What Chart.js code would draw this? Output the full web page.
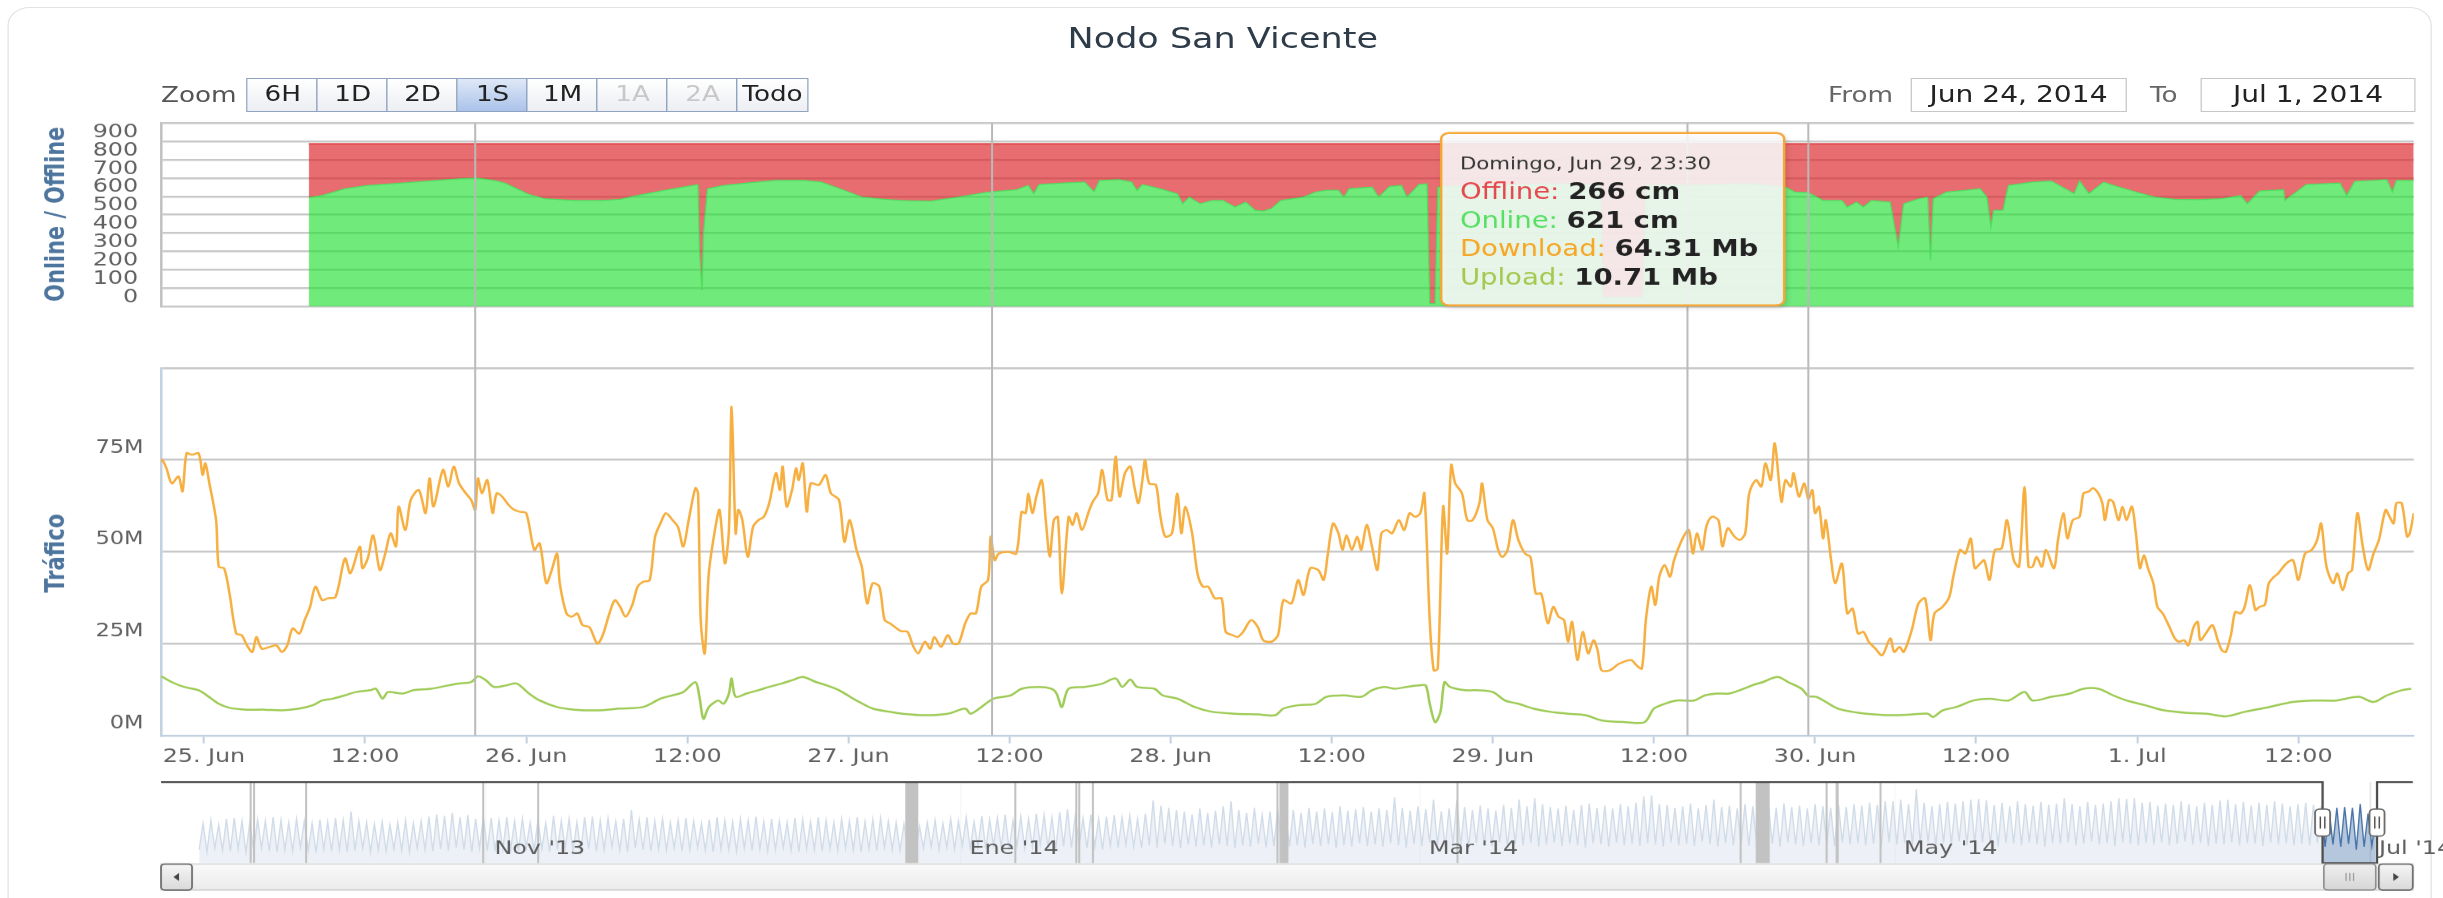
<!DOCTYPE html>
<html>
<head>
<meta charset="utf-8">
<script src="https://cdn.jsdelivr.net/npm/chart.js@4.4.1/dist/chart.umd.min.js"></script>
<style>
  html, body { margin: 0; padding: 0; background: #fff; overflow: hidden; }
  body { width: 2443px; height: 898px; position: relative; font-family: "DejaVu Sans", sans-serif; }
  /* the reference is a horizontally stretched screenshot, so the whole page is laid out narrow and stretched */
  #page { position: absolute; left: 0; top: 0; width: 1955px; height: 898px; transform: scaleX(1.24962); transform-origin: 0 0; }
  .frame { position: absolute; left: 5.6px; top: 7px; width: 1940.6px; height: 960px; box-sizing: border-box;
           border: 1.6px solid #e2e2e2; border-radius: 18px; }
  .title { position: absolute; left: 0; width: 1957px; top: 22px; line-height: 34px; text-align: center;
           font-size: 28px; color: #2e3b49; }
  .lbl { position: absolute; top: 78px; height: 34px; line-height: 34px; font-size: 21px; color: #666; }
  .btns { position: absolute; left: 199px; top: 78px; height: 34px; display: flex; }
  .btns span { box-sizing: border-box; width: 57.6px; height: 34px; border: 1.6px solid #8ea3c0; margin-left: -1.6px;
               background: linear-gradient(#ffffff, #eceef2); font-size: 21px; line-height: 31px; text-align: center; color: #222; }
  .btns span.sel { background: linear-gradient(#dfe8f7, #abc3ea); }
  .btns span.dis { color: #c8c8c8; }
  .box { position: absolute; top: 78px; height: 34px; box-sizing: border-box; border: 1.6px solid #c6c6c6;
         font-size: 22.5px; line-height: 31px; text-align: center; color: #222; }
  canvas { position: absolute; left: 0; }
</style>
</head>
<body>
<div id="page">
  <div class="frame"></div>
  <div class="title">Nodo San Vicente</div>
  <div class="lbl" style="left:128.8px;color:#555">Zoom</div>
  <div class="btns">
    <span>6H</span><span>1D</span><span>2D</span><span class="sel">1S</span><span>1M</span><span class="dis">1A</span><span class="dis">2A</span><span>Todo</span>
  </div>
  <div class="lbl" style="left:1462.9px">From</div>
  <div class="box" style="left:1528.5px;width:173.6px">Jun 24, 2014</div>
  <div class="lbl" style="left:1720.5px">To</div>
  <div class="box" style="left:1760.6px;width:172.8px">Jul 1, 2014</div>
  <canvas id="status" width="1955" height="230" style="top:110px"></canvas>
  <canvas id="traffic" width="1955" height="430" style="top:340px"></canvas>
  <canvas id="navigator" width="1955" height="128" style="top:770px"></canvas>
</div>
<script>
// main charts: x = hours since 25 Jun 2014 00:00
const mainMinHour = -3.2
const mainMaxHour = 164.6
const xTickHours = [0, 12, 24, 36, 48, 60, 72, 84, 96, 108, 120, 132, 144, 156]
const xTickLabels = ["25. Jun", "12:00", "26. Jun", "12:00", "27. Jun", "12:00", "28. Jun", "12:00",
                     "29. Jun", "12:00", "30. Jun", "12:00", "1. Jul", "12:00"]

const statusTicks = [0, 100, 200, 300, 400, 500, 600, 700, 800, 900, 1000]
const statusTickLabels = ["", "0", "100", "200", "300", "400", "500", "600", "700", "800", "900"]
const trafficTicks = [0, 25, 50, 75, 100]
const trafficTickLabels = ["0M", "25M", "50M", "75M", ""]

// online / offline cable modems
const statusHours = [7.8, 8.8, 10.5, 12.2, 14.7, 17.3, 19.0, 20.3, 21.6, 22.4, 23.3, 24.2, 25.4, 27.6, 29.7, 31.0,
  32.3, 34.0, 35.7, 36.8, 36.9, 37.1, 37.2, 37.5, 38.7, 40.4, 42.5, 44.7, 46.0, 47.7, 49.0, 50.7, 52.0, 54.1, 56.2,
  58.4, 60.5, 61.4, 61.8, 62.2, 64.0, 65.6, 66.3, 66.7, 68.2, 69.1, 69.5, 69.9, 71.2, 72.5, 72.9, 73.4, 74.2, 75.1,
  75.9, 76.8, 77.6, 78.3, 78.9, 79.5, 80.2, 81.9, 82.8, 83.6, 84.5, 84.9, 85.3, 87.0, 87.5, 88.3, 89.2, 89.6, 90.5,
  91.1, 91.3, 91.7, 91.9, 93.0, 95.0, 98.0, 100.0, 103.0, 104.0, 104.2, 107.2, 107.4, 110.0, 113.0, 115.0, 117.8,
  118.5, 119.5, 120.6, 122.0, 122.4, 123.1, 123.6, 124.2, 124.9, 125.6, 126.2, 126.6, 127.7, 128.4, 128.6, 128.8,
  129.8, 131.2, 132.3, 132.8, 133.1, 133.3, 134.0, 134.4, 136.2, 137.6, 139.3, 139.7, 140.4, 141.5, 142.5, 143.9,
  145.3, 146.8, 148.5, 150.3, 151.7, 152.2, 153.1, 154.9, 155.0, 156.6, 159.1, 159.6, 160.2, 162.6, 163.0, 163.3, 164.6]
const onlineCm = [593, 605, 642, 660, 673, 687, 696, 700, 687, 673, 642, 611, 587, 578, 578, 584,
  605, 629, 651, 664, 305, 87, 396, 642, 660, 673, 687, 687, 678, 633, 596, 584, 578, 574, 596,
  624, 636, 660, 615, 665, 673, 678, 625, 687, 691, 678, 633, 665, 642, 614, 560, 596, 560, 578,
  578, 542, 569, 524, 520, 533, 578, 596, 624, 633, 633, 596, 642, 651, 596, 654, 660, 596, 665,
  669, 15, 15, 650, 655, 660, 665, 668, 665, 660, 50, 50, 660, 662, 665, 668, 651,
  624, 621, 578, 578, 542, 569, 542, 578, 573, 569, 324, 560, 587, 596, 251, 587,
  624, 633, 642, 596, 433, 524, 524, 660, 678, 684, 615, 684, 615, 678, 654, 624,
  596, 584, 582, 587, 605, 560, 629, 636, 578, 665, 673, 605, 682, 691, 624, 687, 687]
const offlineCm = [294, 282, 245, 227, 214, 200, 191, 187, 200, 214, 245, 276, 300, 309, 309, 303,
  282, 258, 236, 223, 582, 800, 491, 245, 227, 214, 200, 200, 209, 254, 291, 303, 309, 313, 291,
  263, 251, 227, 272, 222, 214, 209, 262, 200, 196, 209, 254, 222, 245, 273, 327, 291, 327, 309,
  309, 345, 318, 363, 367, 354, 309, 291, 263, 254, 254, 291, 245, 236, 291, 233, 227, 291, 222,
  218, 872, 872, 237, 232, 227, 222, 219, 222, 227, 837, 837, 227, 225, 222, 219, 236,
  263, 266, 309, 309, 345, 318, 345, 309, 314, 318, 563, 327, 300, 291, 636, 300,
  263, 254, 245, 291, 454, 363, 363, 227, 209, 203, 272, 203, 272, 209, 233, 263,
  291, 303, 305, 300, 282, 327, 258, 251, 309, 222, 214, 282, 205, 196, 263, 200, 200]

// traffic in Mb: [hour, value]
const downloadPoints = [[-3.2,74.5],[-3.1,75.0],[-2.8,72.7],[-2.4,68.6],[-1.9,70.5],[-1.6,66.4],[-1.3,76.8],[-0.9,76.4],
  [-0.4,76.8],[-0.1,70.9],[0.1,74.1],[0.4,68.6],[0.9,58.6],[1.1,45.9],[1.5,45.5],[1.9,38.6],[2.4,27.7],[2.8,27.3],
  [3.2,24.5],[3.6,22.7],[3.9,26.8],[4.3,23.6],[4.9,24.1],[5.4,24.5],[5.8,22.7],[6.2,24.5],[6.6,29.1],[7.1,27.7],
  [7.5,31.4],[7.9,35.0],[8.3,40.5],[8.8,36.8],[9.2,37.3],[9.8,37.7],[10.5,48.2],[10.9,44.1],[11.6,51.4],[11.8,45.5],
  [12.2,48.2],[12.6,54.5],[13.1,45.0],[13.5,49.5],[13.9,55.0],[14.3,51.4],[14.5,62.3],[15.0,55.9],[15.4,64.1],
  [16.0,66.8],[16.5,60.5],[16.8,70.0],[17.1,62.3],[17.8,72.3],[18.2,67.7],[18.6,73.2],[19.0,68.6],[19.5,65.9],
  [19.9,64.1],[20.2,61.4],[20.4,70.0],[20.7,65.9],[21.1,69.5],[21.5,60.5],[21.8,65.9],[22.2,65.0],[22.7,62.7],
  [23.1,61.4],[23.5,60.9],[24.0,60.5],[24.6,50.5],[25.0,52.3],[25.5,41.4],[25.9,45.0],[26.3,49.5],[26.5,41.4],
  [27.0,33.2],[27.4,32.3],[27.8,33.2],[28.2,30.0],[28.7,29.5],[29.3,25.0],[29.7,27.3],[30.2,33.2],[30.6,36.8],
  [31.0,35.0],[31.4,32.3],[31.9,35.5],[32.3,40.5],[32.7,41.8],[33.2,42.3],[33.6,54.1],[34.0,57.7],[34.4,60.5],
  [34.9,58.6],[35.3,56.8],[35.7,51.4],[36.1,58.6],[36.6,67.3],[36.8,65.9],[37.0,31.4],[37.3,22.3],[37.6,44.1],
  [38.1,56.8],[38.4,61.4],[38.8,46.8],[39.1,55.9],[39.3,89.5],[39.6,55.0],[39.8,61.4],[40.1,58.6],[40.5,48.6],
  [40.9,56.8],[41.3,58.6],[41.7,59.5],[42.1,63.2],[42.6,71.4],[42.9,66.8],[43.1,73.2],[43.4,62.3],[43.8,66.8],
  [44.1,72.7],[44.3,69.5],[44.6,74.1],[44.9,60.9],[45.2,68.6],[45.8,68.2],[46.3,70.9],[46.7,65.9],[47.3,64.1],
  [47.7,52.7],[48.1,58.6],[48.6,50.5],[49.0,45.9],[49.4,35.9],[49.8,41.4],[50.3,40.5],[50.7,31.4],[51.1,30.5],
  [51.9,28.4],[52.4,28.2],[52.8,24.5],[53.2,22.3],[53.7,25.5],[54.1,23.6],[54.4,26.8],[54.9,24.1],[55.4,27.3],
  [55.8,25.0],[56.2,25.0],[56.7,30.5],[57.1,33.2],[57.5,33.2],[57.9,40.5],[58.4,42.3],[58.6,54.1],[58.9,47.7],
  [59.2,49.5],[59.9,50.0],[60.5,49.5],[60.9,60.9],[61.2,60.5],[61.4,65.9],[61.7,60.5],[62.0,65.0],[62.4,69.5],
  [62.7,58.6],[63.0,48.6],[63.3,58.6],[63.6,59.5],[63.9,38.6],[64.4,59.5],[64.7,57.3],[65.0,60.5],[65.4,55.9],
  [65.9,60.9],[66.2,63.6],[66.6,65.9],[66.9,72.3],[67.3,64.1],[67.6,64.1],[67.9,75.9],[68.2,65.0],[68.6,71.4],
  [69.0,73.2],[69.3,67.7],[69.6,63.2],[69.9,69.5],[70.1,75.0],[70.4,68.6],[70.9,68.2],[71.2,60.5],[71.6,54.1],
  [72.1,55.0],[72.5,65.9],[72.8,55.0],[73.1,62.3],[73.6,55.0],[74.0,44.1],[74.4,40.5],[74.8,40.5],[75.3,37.3],
  [75.8,37.3],[76.1,28.2],[76.6,27.3],[77.0,26.8],[77.4,28.2],[78.0,31.4],[78.5,29.5],[78.9,25.9],[79.5,25.5],
  [80.0,27.3],[80.4,36.8],[81.0,35.9],[81.5,42.3],[81.9,38.2],[82.4,45.5],[83.0,45.0],[83.4,42.3],[83.7,49.1],
  [84.1,57.7],[84.5,55.0],[84.8,50.5],[85.1,54.5],[85.5,50.5],[85.9,54.1],[86.2,50.5],[86.6,57.3],[87.0,51.4],
  [87.4,45.0],[87.7,55.0],[88.1,55.9],[88.5,55.0],[89.0,58.6],[89.4,55.9],[89.8,60.5],[90.2,59.5],[90.6,60.5],
  [90.9,65.9],[91.3,31.4],[91.6,17.7],[91.9,18.2],[92.3,62.3],[92.6,49.5],[92.9,73.6],[93.2,68.6],[93.7,65.9],
  [94.1,58.6],[94.5,58.6],[95.0,63.2],[95.2,68.6],[95.6,58.6],[96.0,56.4],[96.4,50.5],[96.7,48.6],[97.1,50.5],
  [97.5,58.6],[97.9,53.2],[98.4,49.5],[98.8,48.6],[99.2,38.6],[99.6,38.6],[100.1,30.5],[100.5,35.0],[100.9,32.3],
  [101.3,31.4],[101.6,25.5],[101.9,30.9],[102.3,20.5],[102.7,28.2],[103.1,22.3],[103.5,25.9],[103.8,23.2],
  [104.1,17.7],[104.7,17.7],[105.4,19.5],[106.3,20.5],[106.7,19.1],[107.1,18.2],[107.4,31.4],[107.8,40.5],
  [108.1,35.5],[108.4,43.2],[108.8,46.4],[109.2,43.2],[109.5,47.7],[110.2,54.1],[110.6,55.9],[110.9,49.5],
  [111.2,55.0],[111.6,50.5],[111.9,56.8],[112.3,59.5],[112.8,58.6],[113.1,51.4],[113.5,56.4],[114.0,54.1],
  [114.4,53.2],[114.8,55.0],[115.1,65.9],[115.6,69.5],[116.0,67.7],[116.3,74.1],[116.7,69.5],[117.0,79.5],
  [117.5,63.6],[117.8,69.5],[118.2,67.7],[118.4,71.4],[118.8,65.0],[119.2,68.6],[119.5,64.3],[119.8,66.8],
  [120.0,60.5],[120.3,62.3],[120.6,53.6],[120.8,58.6],[121.2,47.7],[121.5,41.4],[122.0,46.8],[122.4,33.2],
  [122.8,34.5],[123.2,27.7],[123.6,28.2],[124.0,25.5],[124.5,23.6],[125.0,21.8],[125.6,26.4],[125.9,22.7],
  [126.3,24.1],[126.6,22.7],[127.2,28.6],[127.7,35.9],[128.2,37.3],[128.6,25.9],[128.9,33.2],[129.5,35.0],
  [130.0,37.7],[130.3,43.2],[130.8,50.5],[131.2,49.5],[131.6,53.6],[131.9,45.5],[132.3,46.8],[132.6,47.7],
  [133.0,42.3],[133.4,50.5],[133.9,50.9],[134.3,58.6],[134.8,47.7],[135.2,45.9],[135.6,67.7],[135.9,45.9],
  [136.2,45.9],[136.5,48.6],[136.9,45.9],[137.2,50.5],[137.8,45.5],[138.1,53.2],[138.5,60.5],[138.8,53.6],
  [139.2,58.6],[139.7,59.5],[140.0,65.9],[140.4,66.4],[140.7,67.3],[141.1,65.9],[141.4,63.2],[141.6,58.6],
  [141.9,64.1],[142.2,63.6],[142.6,58.6],[142.9,62.3],[143.2,58.6],[143.6,62.3],[143.9,55.0],[144.2,45.5],
  [144.5,49.1],[144.8,45.5],[145.2,41.4],[145.5,35.0],[145.9,33.2],[146.4,29.5],[146.8,26.4],[147.1,25.5],
  [147.5,25.9],[147.8,24.5],[148.2,29.5],[148.5,30.9],[148.7,25.9],[149.1,27.7],[149.6,30.0],[150.0,25.9],
  [150.3,23.2],[150.6,22.7],[151.0,27.7],[151.3,33.6],[151.7,33.2],[152.0,35.0],[152.4,40.9],[152.8,34.1],
  [153.1,35.0],[153.5,35.5],[153.8,41.4],[154.2,43.2],[154.5,44.1],[155.1,46.8],[155.6,47.7],[156.0,42.3],
  [156.5,49.5],[157.0,50.5],[157.4,53.2],[157.7,57.7],[158.1,45.9],[158.6,41.4],[158.9,44.1],[159.3,39.5],
  [159.7,44.1],[160.0,45.0],[160.4,60.5],[160.8,51.4],[161.2,45.0],[161.6,49.5],[162.0,53.2],[162.5,61.4],
  [162.8,59.5],[163.1,57.7],[163.3,63.2],[163.7,63.2],[164.1,54.1],[164.3,55.0],[164.6,60.5]]

const uploadPoints = [[-3.2,16.0],[-3.1,15.9],[-2.4,14.5],[-1.5,13.2],[-0.4,12.3],[0.2,10.9],[1.1,8.6],[1.9,7.5],
  [3.2,7.0],[4.5,7.0],[5.8,6.8],[7.1,7.3],[8.1,8.2],[8.8,9.5],[9.6,10.0],[10.5,10.9],[11.3,11.8],[12.4,12.3],
  [12.8,12.7],[13.3,10.0],[13.7,11.8],[14.8,11.4],[15.6,12.3],[16.9,12.7],[18.2,13.6],[19.0,14.1],[19.9,14.5],
  [20.4,16.1],[21.0,15.0],[21.6,13.2],[22.5,13.6],[23.3,14.1],[24.2,11.4],[25.0,9.5],[26.3,7.7],[27.6,7.0],
  [29.3,6.8],[31.0,7.3],[32.7,7.7],[34.0,10.0],[34.9,10.9],[35.7,11.8],[36.6,14.5],[36.9,10.5],[37.2,4.5],
  [37.6,7.7],[38.3,9.5],[38.7,8.6],[39.1,11.4],[39.3,15.5],[39.6,10.5],[40.4,11.4],[41.3,12.3],[42.1,13.2],
  [43.0,14.1],[43.8,15.0],[44.6,15.9],[45.6,14.5],[46.4,13.6],[47.3,12.3],[48.6,9.5],[49.8,7.3],[51.1,6.4],
  [52.0,5.9],[53.7,5.5],[55.4,5.9],[56.7,7.3],[57.1,5.9],[57.9,7.7],[58.8,10.0],[60.1,10.9],[60.9,12.7],
  [62.2,13.2],[63.1,12.7],[63.5,11.4],[63.9,7.7],[64.4,12.7],[65.6,13.2],[66.9,14.1],[67.9,15.5],[68.4,13.2],
  [69.0,15.2],[69.5,13.2],[70.8,12.7],[71.4,10.9],[72.5,10.0],[73.8,7.7],[75.1,6.4],[76.8,5.9],[78.5,5.7],
  [79.8,5.5],[80.4,7.3],[81.5,8.2],[82.8,8.6],[83.6,10.5],[84.9,10.9],[86.2,10.5],[87.0,12.3],[87.9,13.2],
  [88.7,12.7],[89.6,13.2],[90.5,13.6],[91.0,13.6],[91.3,8.6],[91.7,3.6],[92.1,6.4],[92.4,14.5],[92.8,13.2],
  [93.9,12.3],[94.7,12.3],[96.0,11.8],[96.9,9.5],[97.9,8.6],[99.0,7.3],[100.3,6.4],[101.6,5.9],[102.9,5.5],
  [104.1,4.1],[105.9,3.6],[107.3,3.6],[108.0,7.3],[108.8,8.6],[109.7,9.5],[111.0,9.5],[111.8,10.9],[112.7,11.4],
  [113.6,11.4],[114.4,12.3],[115.3,13.6],[116.1,14.5],[117.2,15.9],[118.0,14.5],[119.0,12.7],[119.5,10.7],
  [120.1,10.5],[120.8,9.1],[121.7,7.3],[122.8,6.4],[123.8,5.9],[125.6,5.5],[127.3,5.7],[128.4,5.9],[128.8,5.0],
  [129.5,6.8],[130.5,7.7],[131.8,9.5],[133.0,10.0],[134.4,9.5],[135.6,11.8],[136.2,9.5],[137.6,10.5],[139.0,11.4],
  [140.0,12.7],[141.1,12.7],[142.2,10.9],[143.2,9.5],[144.6,8.2],[146.0,6.8],[147.8,6.1],[149.2,5.9],[150.6,5.2],
  [152.0,6.4],[153.8,7.7],[155.6,9.1],[157.3,9.5],[158.8,9.5],[160.5,10.5],[161.6,9.1],[162.6,10.9],[163.7,12.3],
  [164.4,12.7]]

// vertical marks in the main panes
const mainEventHours = [20.2, 58.7, 110.5]
const crosshairHour = 119.5

// tooltip text
const tooltipHeader = "Domingo, Jun 29, 23:30"
const tooltipNames = ["Offline", "Online", "Download", "Upload"]
const tooltipValues = ["266 cm", "621 cm", "64.31 Mb", "10.71 Mb"]

// navigator: x = days since 1 Nov 2013
const navMinDay = -41.7
const navMaxDay = 247.45
const mainStartDay = 236          // 25 Jun 2014
const navFirstDay = -37
const navLowTimeOfDay = 0.2
const navPeakTimeOfDay = 0.7
const navPeakM = [
  54,58,52,60,61,57,55,59,57,62, 58,55,60,57,54,59,56,61,58,70, 57,55,53,56,52,55,58,54,57,63,
  66,64,68,62,65,60,63,61,58,62, 57,60,55,58,54,64,57,60,55,62, 63,58,61,56,60,72,59,62,57,60,
  55,58,61,57,54,59,62,58,56,60, 58,63,56,60,57,55,61,59,56,62, 58,55,60,57,62,56,59,61,57,55,
  53,52,50,55,58,54,60,57,62,56, 64,59,61,66,58,63,60,67,65,62, 69,73,64,61,66,60,63,65,62,64,
  60,67,85,78,75,72,70,66,74,68, 71,77,84,72,68,75,65,70,73,66, 72,68,75,70,74,69,77,71,73,76,
  70,74,72,89,75,71,77,73,86,70, 74,85,76,72,78,74,71,79,75,86, 77,88,80,76,74,78,72,79,81,75,
  78,74,80,77,82,90,92,80,79,75, 77,81,74,79,86,76,78,74,80,77, 73,79,75,81,76,78,74,80,77,75,
  79,76,80,78,82,79,84,84,86,80, 100,82,77,80,83,81,84,86,87,85, 79,82,77,84,80,78,83,79,81,88,
  80,77,83,79,81,84,88,87,88,82, 83,78,81,79,84,80,77,82,79,85, 86,80,83,78,82,79,84,81,77,80,
  82,79,77,73,75,76,75,80,67,63]
const navLowM = [
  18,15,20,17,16,19,14,17,20,16, 15,18,16,21,17,14,19,16,18,15, 17,20,15,18,16,19,17,15,20,18,
  16,19,17,21,18,15,20,17,16,19, 18,16,21,17,19,15,18,20,16,17, 19,16,18,22,17,15,20,18,16,19,
  17,20,16,18,21,17,15,19,18,16, 20,17,19,16,18,21,17,15,19,18, 16,19,17,20,18,15,19,17,21,18,
  17,19,18,20,22,18,21,19,23,20, 22,19,24,21,18,23,20,22,25,21, 19,23,21,24,20,22,18,23,21,25,
  22,20,24,21,26,23,20,25,22,24, 21,25,23,20,24,22,26,21,23,25, 22,24,21,26,23,25,20,24,22,27,
  23,25,22,27,24,21,26,23,28,24, 22,26,24,21,27,25,23,28,22,26, 24,27,22,25,28,23,26,24,21,27,
  25,22,28,24,26,23,27,25,22,28, 24,26,23,29,25,22,27,24,26,23, 27,24,26,22,28,25,23,27,24,26,
  23,28,25,27,24,26,22,28,25,27, 24,26,28,23,27,25,29,24,26,28, 25,23,27,26,24,28,25,22,27,26,
  28,24,26,29,25,27,23,28,26,24, 27,25,28,24,26,29,25,27,23,26, 25,28,24,27,26,23,28,25,27,24,
  26,24,27,22,25,22,26,18,22,23]
const navMonthDays = [0, 61, 120, 181, 242]
const navMonthLabels = ["Nov '13", "Ene '14", "Mar '14", "May '14", "Jul '14"]
const navEventDays = [-30.19, -29.75, -23.07, -0.33, 6.73, 68.0, 75.83, 76.21, 77.96, 101.66, 124.78, 161.14, 172.18, 179.1]
const navGapDays = [[53.87, 55.54], [101.92, 103.07], [163.07, 164.87], [173.34, 173.73]]

Chart.defaults.font.family = '"DejaVu Sans", sans-serif'
Chart.defaults.color = '#606060'

const DPR = 1.25
const AXIS_W = 128.8
const TITLE_BLUE = '#4d759e'

function axisTitle(text, y, size) {
  return {
    id: 'axisTitle',
    afterDraw(chart) {
      const ctx = chart.ctx
      ctx.save()
      ctx.translate(45.6, y)
      ctx.rotate(-Math.PI / 2)
      ctx.font = `bold ${size}px "DejaVu Sans"`
      ctx.fillStyle = TITLE_BLUE
      ctx.textAlign = 'center'
      ctx.textBaseline = 'middle'
      ctx.fillText(text, 0, 0)
      ctx.restore()
    }
  }
}

function plotLines(fromTop) {
  return {
    id: 'plotLines',
    afterDatasetsDraw(chart) {
      const { ctx, chartArea, scales: { x } } = chart
      const y0 = fromTop ? chartArea.top : 0
      const y1 = fromTop ? chart.height : chartArea.bottom
      ctx.save()
      ctx.strokeStyle = '#b9b9b9'
      ctx.lineWidth = 1.6
      mainEventHours.concat([crosshairHour]).forEach(h => {
        const px = x.getPixelForValue(h)
        ctx.beginPath(); ctx.moveTo(px, y0); ctx.lineTo(px, y1); ctx.stroke()
      })
      ctx.restore()
    }
  }
}

const tooltipBox = {
  id: 'tooltipBox',
  afterDraw(chart) {
    const { ctx, scales: { x } } = chart
    const right = x.getPixelForValue(crosshairHour) - 19.3
    const w = 274.4, h = 172, left = right - w, top = 23
    ctx.save()
    ctx.shadowColor = 'rgba(0,0,0,0.25)'
    ctx.shadowBlur = 6
    ctx.shadowOffsetX = 1.5
    ctx.shadowOffsetY = 2
    ctx.beginPath()
    ctx.roundRect(left, top, w, h, 6)
    ctx.fillStyle = 'rgba(255,255,255,0.86)'
    ctx.fill()
    ctx.shadowColor = 'transparent'
    ctx.lineWidth = 2
    ctx.strokeStyle = '#f6a633'
    ctx.stroke()
    ctx.textAlign = 'left'
    ctx.textBaseline = 'middle'
    ctx.font = '17px "DejaVu Sans"'
    ctx.fillStyle = '#333'
    ctx.fillText(tooltipHeader, left + 15, top + 32)
    const colors = ['#e4474c', '#55df62', '#f5a623', '#a3c84e']
    const rowY = [60, 89, 117, 146]
    tooltipNames.forEach((name, i) => {
      ctx.font = '22px "DejaVu Sans"'
      ctx.fillStyle = colors[i]
      const lbl = name + ': '
      ctx.fillText(lbl, left + 15, top + rowY[i])
      const lw = ctx.measureText(lbl).width
      ctx.font = 'bold 22px "DejaVu Sans"'
      ctx.fillStyle = '#222'
      ctx.fillText(tooltipValues[i], left + 15 + lw, top + rowY[i])
    })
    ctx.restore()
  }
}

// online / offline pane
new Chart(document.getElementById('status'), {
  type: 'line',
  data: {
    datasets: [
      {
        label: 'Online',
        data: statusHours.map((h, i) => ({ x: h, y: onlineCm[i] })),
        fill: 'origin',
        backgroundColor: 'rgba(34,223,52,0.65)',
        borderColor: 'rgba(70,222,88,0.9)',
        borderWidth: 1,
        pointRadius: 0,
        tension: 0
      },
      {
        label: 'Offline',
        data: statusHours.map((h, i) => ({ x: h, y: offlineCm[i] })),
        fill: '-1',
        backgroundColor: 'rgba(220,30,35,0.65)',
        borderColor: 'rgba(222,50,55,0.85)',
        borderWidth: 1.5,
        pointRadius: 0,
        tension: 0
      }
    ]
  },
  options: {
    responsive: false,
    devicePixelRatio: DPR,
    animation: false,
    events: [],
    layout: { padding: { left: 0, right: 24, top: 13, bottom: 34 } },
    plugins: { legend: { display: false }, tooltip: { enabled: false } },
    scales: {
      x: { type: 'linear', display: false, min: mainMinHour, max: mainMaxHour },
      y: {
        stacked: true,
        min: 0,
        max: 1000,
        afterBuildTicks: s => { s.ticks = statusTicks.map(v => ({ value: v })) },
        afterFit: s => { s.width = AXIS_W },
        ticks: {
          autoSkip: false,
          callback: (v, i) => statusTickLabels[i],
          labelOffset: 9.15,
          padding: 1.5,
          font: { size: 19 },
          color: '#606060'
        },
        // invisible tick marks push the labels away from the axis without adding top padding
        grid: { color: '#c8c8c8', lineWidth: 2, drawTicks: true, tickLength: 16.9, tickColor: 'rgba(0,0,0,0)' },
        border: { display: true, color: '#c0c0c0', width: 2 }
      }
    }
  },
  plugins: [plotLines(true), tooltipBox, axisTitle('Online / Offline', 104, 20.8)]
})

// traffic pane
new Chart(document.getElementById('traffic'), {
  type: 'line',
  data: {
    datasets: [
      {
        label: 'Download',
        data: downloadPoints.map(p => ({ x: p[0], y: p[1] })),
        borderColor: '#f6ae3e',
        borderWidth: 2,
        pointRadius: 0,
        tension: 0.3,
        fill: false
      },
      {
        label: 'Upload',
        data: uploadPoints.map(p => ({ x: p[0], y: p[1] })),
        borderColor: '#9ecb55',
        borderWidth: 2,
        pointRadius: 0,
        tension: 0.3,
        fill: false
      }
    ]
  },
  options: {
    responsive: false,
    devicePixelRatio: DPR,
    animation: false,
    events: [],
    layout: { padding: { left: 0, right: 24, top: 28, bottom: 0 } },
    plugins: { legend: { display: false }, tooltip: { enabled: false } },
    scales: {
      x: {
        type: 'linear',
        min: mainMinHour,
        max: mainMaxHour,
        afterBuildTicks: s => { s.ticks = xTickHours.map(v => ({ value: v })) },
        afterFit: s => { s.height = 35 },
        ticks: {
          autoSkip: false,
          maxRotation: 0,
          callback: (v, i) => xTickLabels[i],
          padding: 2,
          font: { size: 19 },
          color: '#606060'
        },
        grid: { drawOnChartArea: false, drawTicks: true, tickLength: 8, tickColor: '#c0d0e0', tickWidth: 1.6 },
        border: { display: true, color: '#c0d0e0', width: 2 }
      },
      y: {
        min: 0,
        max: 100,
        afterBuildTicks: s => { s.ticks = trafficTicks.map(v => ({ value: v })) },
        afterFit: s => { s.width = AXIS_W },
        ticks: {
          autoSkip: false,
          callback: (v, i) => trafficTickLabels[i],
          labelOffset: -12,
          padding: 1.5,
          font: { size: 18 },
          color: '#606060'
        },
        grid: { color: c => (c.tick && c.tick.value === 0 ? 'rgba(0,0,0,0)' : '#c8c8c8'), lineWidth: 2,
                drawTicks: true, tickLength: 12.5, tickColor: 'rgba(0,0,0,0)' },
        border: { display: true, color: '#c0d0e0', width: 2 }
      }
    }
  },
  plugins: [plotLines(false), axisTitle('Tráfico', 213, 21)]
})

// navigator
const navPoints = []
navPeakM.forEach((peak, i) => {
  const d = navFirstDay + i
  navPoints.push({ x: d + navLowTimeOfDay, y: navLowM[i] })
  navPoints.push({ x: d + navPeakTimeOfDay, y: peak })
})
const selFrom = mainStartDay + mainMinHour / 24
const selTo = mainStartDay + mainMaxHour / 24

function grad(ctx, y0, y1, c0, c1) {
  const g = ctx.createLinearGradient(0, y0, 0, y1)
  g.addColorStop(0, c0)
  g.addColorStop(1, c1)
  return g
}

const navigatorDecor = {
  id: 'navigatorDecor',
  beforeDatasetsDraw(chart) {
    const { ctx, chartArea: a, scales: { x } } = chart
    ctx.save()
    ctx.strokeStyle = '#e6e6e6'
    ctx.lineWidth = 1.2
    navMonthDays.forEach(d => {
      const px = x.getPixelForValue(d)
      if (px > a.right) return
      ctx.beginPath(); ctx.moveTo(px, a.top); ctx.lineTo(px, a.bottom); ctx.stroke()
    })
    ctx.restore()
  },
  afterDatasetsDraw(chart) {
    const { ctx, chartArea: a, scales: { x } } = chart
    const l = x.getPixelForValue(selFrom), r = x.getPixelForValue(selTo)
    ctx.save()
    // mask outside the selected week
    ctx.fillStyle = 'rgba(255,255,255,0.75)'
    ctx.fillRect(a.left, a.top, l - a.left, a.bottom - a.top)
    ctx.fillRect(r, a.top, a.right - r, a.bottom - a.top)
    // gaps and events
    ctx.fillStyle = '#c2c2c2'
    navGapDays.forEach(g => {
      const p0 = x.getPixelForValue(g[0]), p1 = x.getPixelForValue(g[1])
      ctx.fillRect(p0, a.top, p1 - p0, a.bottom - a.top)
    })
    ctx.strokeStyle = '#c0c0c0'
    ctx.lineWidth = 1.6
    navEventDays.forEach(d => {
      const px = x.getPixelForValue(d)
      ctx.beginPath(); ctx.moveTo(px, a.top); ctx.lineTo(px, a.bottom); ctx.stroke()
    })
    // outline
    ctx.strokeStyle = '#4a4a4a'
    ctx.lineWidth = 1.8
    ctx.beginPath()
    ctx.moveTo(a.left, a.top); ctx.lineTo(l, a.top); ctx.lineTo(l, a.bottom)
    ctx.lineTo(r, a.bottom); ctx.lineTo(r, a.top); ctx.lineTo(a.right, a.top)
    ctx.stroke()
    // handles
    const hy = (a.top + a.bottom) / 2
    ;[l, r].forEach(px => {
      ctx.beginPath()
      ctx.roundRect(px - 6, hy - 13.5, 12, 27, 3.5)
      ctx.fillStyle = '#fff'
      ctx.fill()
      ctx.strokeStyle = '#666'
      ctx.lineWidth = 1.4
      ctx.stroke()
      ctx.strokeStyle = '#444'
      ctx.lineWidth = 1.1
      ;[-1.8, 1.8].forEach(dx => {
        ctx.beginPath(); ctx.moveTo(px + dx, hy - 6); ctx.lineTo(px + dx, hy + 6); ctx.stroke()
      })
    })
    // month labels
    ctx.font = '19px "DejaVu Sans"'
    ctx.fillStyle = '#5c5c5c'
    ctx.textAlign = 'left'
    ctx.textBaseline = 'middle'
    navMonthDays.forEach((d, i) => {
      ctx.fillText(navMonthLabels[i], x.getPixelForValue(d) + 7, 79)
    })
    // scrollbar
    const sy0 = a.bottom + 1, sy1 = a.bottom + 27
    ctx.fillStyle = grad(ctx, sy0, sy1, '#fbfbfb', '#ebebeb')
    ctx.fillRect(a.left, sy0, a.right - a.left, sy1 - sy0)
    ctx.strokeStyle = '#d0d0d0'
    ctx.lineWidth = 1.2
    ctx.strokeRect(a.left, sy0, a.right - a.left, sy1 - sy0)
    const button = (x0, x1, dir) => {
      ctx.beginPath()
      ctx.roundRect(x0, sy0, x1 - x0, sy1 - sy0, 3)
      ctx.fillStyle = grad(ctx, sy0, sy1, '#f6f6f6', '#dadada')
      ctx.fill()
      ctx.strokeStyle = '#6b6b6b'
      ctx.lineWidth = 1.4
      ctx.stroke()
      const cx = (x0 + x1) / 2, cy = (sy0 + sy1) / 2
      ctx.beginPath()
      ctx.moveTo(cx - 2.5 * dir, cy); ctx.lineTo(cx + 2 * dir, cy - 4); ctx.lineTo(cx + 2 * dir, cy + 4)
      ctx.closePath()
      ctx.fillStyle = '#444'
      ctx.fill()
    }
    button(a.left, a.left + 24.8, 1)
    button(a.right - 27.2, a.right, -1)
    ctx.beginPath()
    ctx.roundRect(l + 1, sy0, r - l - 2, sy1 - sy0, 3)
    ctx.fillStyle = grad(ctx, sy0, sy1, '#f0f0f0', '#d6d6d6')
    ctx.fill()
    ctx.strokeStyle = '#8a8a8a'
    ctx.lineWidth = 1.3
    ctx.stroke()
    ctx.strokeStyle = '#9a9a9a'
    ctx.lineWidth = 1
    ;[-3, 0, 3].forEach(dx => {
      const cx = (l + r) / 2 + dx
      ctx.beginPath(); ctx.moveTo(cx, sy0 + 9); ctx.lineTo(cx, sy1 - 9); ctx.stroke()
    })
    ctx.restore()
  }
}

new Chart(document.getElementById('navigator'), {
  type: 'line',
  data: {
    datasets: [{
      data: navPoints,
      fill: 'origin',
      backgroundColor: 'rgba(69,114,167,0.4)',
      borderColor: '#4572a7',
      borderWidth: 1.1,
      pointRadius: 0,
      tension: 0
    }]
  },
  options: {
    responsive: false,
    devicePixelRatio: DPR,
    animation: false,
    events: [],
    layout: { padding: { left: AXIS_W, right: 24.8, top: 12, bottom: 35 } },
    plugins: { legend: { display: false }, tooltip: { enabled: false } },
    scales: {
      x: { type: 'linear', display: false, min: navMinDay, max: navMaxDay },
      y: { display: false, min: 0, max: 110 }
    }
  },
  plugins: [navigatorDecor]
})
</script>
</body>
</html>
